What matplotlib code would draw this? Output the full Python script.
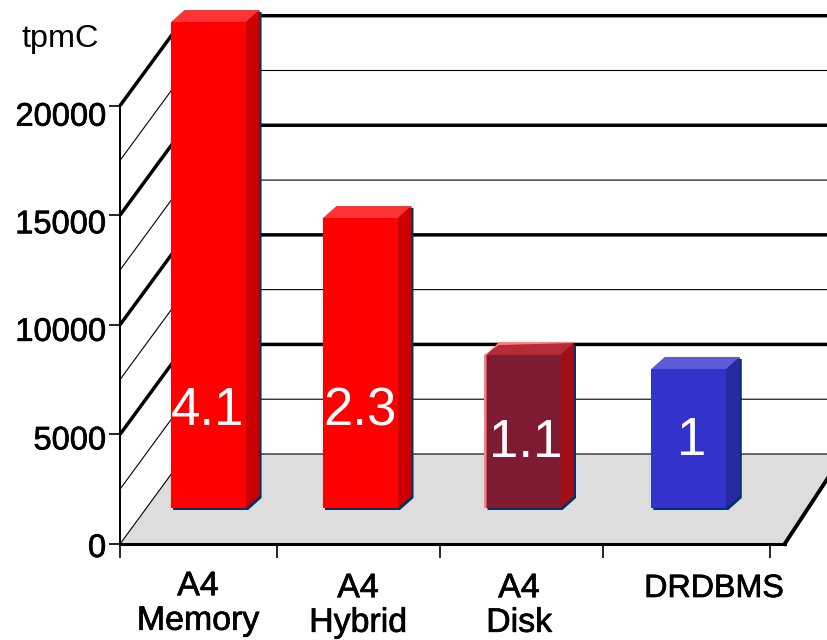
import matplotlib
matplotlib.use("Agg")
import matplotlib.pyplot as plt
import matplotlib.patheffects as pe
from matplotlib.patches import Polygon
from matplotlib.transforms import ScaledTranslation

plt.rcParams['font.family'] = ['Liberation Sans', 'DejaVu Sans']

# tpmC throughput of each configuration
categories = ['A4\nMemory', 'A4\nHybrid', 'A4\nDisk', 'DRDBMS']
tpmc = [22176, 13233, 6982, 6343]
ratios = ['4.1', '2.3', '1.1', '1']
y_ticks = [0, 5000, 10000, 15000, 20000]
grid_values = [0, 2500, 5000, 7500, 10000, 12500, 15000, 17500, 20000]

# bar placement along the category axis and colours (front, top, side)
bar_pos = [0.545, 1.48, 2.48, 3.50]
x_ticks = [0, 0.966, 1.97, 2.97, 4.0]
bar_colors = [('#ff0000', '#ff3333', '#cc0000'),
              ('#ff0000', '#ff3333', '#cc0000'),
              ('#7f1a33', '#b82a35', '#a30d18'),
              ('#3333cc', '#5c5cd6', '#2929a3')]
shadow = '#003366'

# scale of the axes: pixels per category and pixels per tpmC
PX = 162.5
PY = 438.3 / 20000

fig = plt.figure(figsize=(8.27, 6.4), dpi=100)
ax = fig.add_axes([0, 0, 1, 1])
ax.set_xlim(-120 / PX, 707 / PX)
ax.set_ylim(-96 / PY, 544 / PY)
ax.patch.set_visible(False)

wall_dx = 66 / PX
wall_dy = 90 / PY
right_dx = 59 / PX
right_end = 4.09
x_max = ax.get_xlim()[1]

# slightly heavier text, the labels are printed quite dark
heavy = [pe.withStroke(linewidth=0.5, foreground='black')]

# floor
floor = Polygon([(0, 0), (right_end, 0), (right_end + right_dx, wall_dy), (wall_dx, wall_dy)],
                facecolor='#dddddd', edgecolor='none', zorder=1)
ax.add_patch(floor)

# side wall and back wall lines, heavy on every 5000
for v in grid_values:
    lw = 2.5 if v % 5000 == 0 and v > 0 else 0.8
    ax.plot([0, wall_dx, x_max], [v, v + wall_dy, v + wall_dy], color='black', lw=lw,
            solid_joinstyle='miter', solid_capstyle='butt', zorder=2)

# right edge of the floor
ax.plot([right_end, right_end + right_dx], [0, wall_dy], color='black', lw=2.8, zorder=2)

# bars with a fake depth
bar_width = 75 / PX
bar_base = 36 / PY
depth_x = 13.5 / PX
depth_y = 12 / PY
shift_x = 2 / PX
shift_y = 2 / PY

for i in range(len(tpmc)):
    front, top, side = bar_colors[i]
    x0 = bar_pos[i] - bar_width / 2
    x1 = x0 + bar_width
    y1 = bar_base + tpmc[i]
    outline = [(x0, bar_base), (x1, bar_base), (x1 + depth_x, bar_base + depth_y),
               (x1 + depth_x, y1 + depth_y), (x0 + depth_x, y1 + depth_y), (x0, y1)]
    ax.add_patch(Polygon([(x + shift_x, y - shift_y) for x, y in outline],
                         facecolor=shadow, edgecolor='none', zorder=3))
    if categories[i] == 'A4\nDisk':
        # light rim around the dark red bar
        ax.add_patch(Polygon([(x0 - 1.5 / PX, bar_base), (x0 + 1 / PX, bar_base), (x0 + 1 / PX, y1),
                              (x0 + depth_x, y1 + depth_y + 1 / PY), (x1 + depth_x, y1 + depth_y + 1 / PY),
                              (x1 + depth_x, y1 + depth_y), (x0 + depth_x, y1 + depth_y - 2 / PY),
                              (x0 - 1.5 / PX, y1)],
                             facecolor='#ff8080', edgecolor='none', zorder=5))
    ax.bar(bar_pos[i], tpmc[i], width=bar_width, bottom=bar_base, color=front, linewidth=0, zorder=4)
    ax.add_patch(Polygon([(x0, y1), (x1, y1), (x1 + depth_x, y1 + depth_y), (x0 + depth_x, y1 + depth_y)],
                         facecolor=top, edgecolor='none', zorder=4))
    ax.add_patch(Polygon([(x1, bar_base), (x1 + depth_x, bar_base + depth_y),
                          (x1 + depth_x, y1 + depth_y), (x1, y1)],
                         facecolor=side, edgecolor='none', zorder=4))

# ratio labels on the bars
label_x = [208, 360, 526, 692]
label_y = [411, 411, 443, 441]
for i in range(len(ratios)):
    ax.text((label_x[i] - 120) / PX, (544 - label_y[i]) / PY, ratios[i], color='white',
            fontsize=38, ha='center', va='center', zorder=6)

# axes
for name in ['top', 'right']:
    ax.spines[name].set_visible(False)
ax.spines['left'].set_position(('data', 0))
ax.spines['left'].set_bounds(0, 20000)
ax.spines['left'].set_linewidth(1.4)
ax.spines['bottom'].set_position(('data', 0))
ax.spines['bottom'].set_bounds(0, right_end)
ax.spines['bottom'].set_linewidth(2.2)
ax.set_yticks(y_ticks)
ax.set_yticklabels([str(v) for v in y_ticks])
ax.set_xticks(x_ticks)
ax.set_xticklabels([])
ax.tick_params(axis='y', length=8, width=1.2, pad=2, labelsize=23.5)
ax.tick_params(axis='x', length=10, width=1.2)

# the tick labels sit a little below their ticks, more so towards the top
label_drop = [1, 3, 4, 6, 8]
for label, drop in zip(ax.get_yticklabels(), label_drop):
    label.set_transform(label.get_transform() + ScaledTranslation(0, -drop / 100, fig.dpi_scale_trans))
    label.set_path_effects(heavy)

# category labels
cat_x = [198, 358, 519, 714]
cat_y = [604, 606, 606, 589]
cat_size = [24.4, 24.4, 24.4, 23.2]
for i in range(len(categories)):
    ax.text((cat_x[i] - 120) / PX, (544 - cat_y[i]) / PY, categories[i], fontsize=cat_size[i],
            ha='center', va='center', linespacing=1.15, zorder=6, path_effects=heavy)

ax.text(-98 / PX, (544 - 39) / PY, 'tpmC', fontsize=23.3, ha='left', va='center')

fig.savefig('out.png', dpi=100)
